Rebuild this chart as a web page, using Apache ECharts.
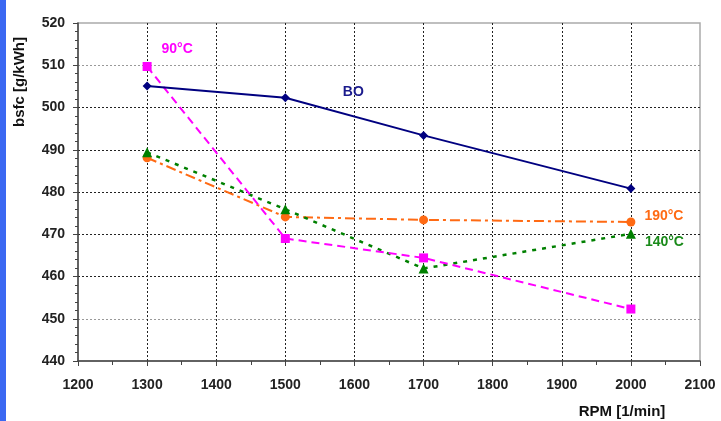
<!DOCTYPE html>
<html>
<head>
<meta charset="utf-8">
<script src="https://cdn.jsdelivr.net/npm/echarts@6/dist/echarts.min.js"></script>
<style>
  html, body { margin: 0; padding: 0; background: #fff; }
  #wrap { position: relative; width: 721px; height: 421px; }
  #chart { position: absolute; left: 0; top: 0; width: 721px; height: 421px; }
  #bar { position: absolute; left: 0; top: 0; width: 6px; height: 421px; background: #3b68f2; }
</style>
</head>
<body>
<div id="wrap">
  <div id="chart"></div>
  <div id="bar"></div>
</div>
<script>
// engine speed points
const rpm = [1300, 1500, 1700, 2000]

// bsfc values per series
const bo = [505.1, 502.3, 493.4, 480.8]
const t90 = [509.7, 469.0, 464.4, 452.3]
const t190 = [488.1, 474.1, 473.4, 472.9]
const t140 = [489.4, 475.9, 461.9, 470.1]

const xTicks = { min: 1200, max: 2100, step: 100 }
const yTicks = { min: 440, max: 520, step: 10 }

const font = '"Liberation Sans", Arial, sans-serif'

const pairs = vals => rpm.map((r, i) => [r, vals[i]])

// put a text label on one point of a series
const labelAt = (vals, idx, text, color, pos, offset) =>
  pairs(vals).map((p, i) => i !== idx ? p : {
    value: p,
    label: {
      show: true,
      formatter: text,
      position: pos,
      offset: offset,
      color: color,
      fontFamily: font,
      fontWeight: 'bold',
      fontSize: 14
    }
  })

const chart = echarts.init(document.getElementById('chart'))

const option = {
  animation: false,
  backgroundColor: '#fff',
  grid: {
    left: 78, right: 21, top: 23, bottom: 60,
    show: true, borderColor: '#aaa', borderWidth: 1.5
  },
  xAxis: {
    type: 'value',
    min: xTicks.min,
    max: xTicks.max,
    interval: xTicks.step,
    axisLine: { lineStyle: { color: '#444', width: 1.5 } },
    axisTick: { length: 5, lineStyle: { color: '#444' } },
    minorTick: { show: true, splitNumber: 2, length: 4, lineStyle: { color: '#444' } },
    axisLabel: {
      margin: 17, color: '#222', fontFamily: font, fontWeight: 'bold', fontSize: 14,
      formatter: v => String(v)
    },
    splitLine: {
      show: true,
      showMinLine: false,
      showMaxLine: false,
      lineStyle: { color: '#222', type: [2, 2], width: 1 }
    }
  },
  yAxis: {
    type: 'value',
    min: yTicks.min,
    max: yTicks.max,
    interval: yTicks.step,
    axisLine: { show: true, lineStyle: { color: '#444', width: 1.5 } },
    axisTick: { show: true, length: 5, lineStyle: { color: '#444' } },
    minorTick: { show: true, splitNumber: 5, length: 3, lineStyle: { color: '#444' } },
    axisLabel: {
      margin: 13, color: '#222', fontFamily: font, fontWeight: 'bold', fontSize: 14,
      formatter: v => String(v)
    },
    splitLine: {
      show: true,
      showMinLine: false,
      showMaxLine: false,
      lineStyle: {
        color: ['#999', '#222', '#222', '#222', '#222', '#222', '#999', '#222'],
        type: [2, 2],
        width: 1
      }
    }
  },
  graphic: [
    {
      type: 'text',
      x: 20, y: 82,
      rotation: Math.PI / 2,
      style: {
        text: 'bsfc [g/kWh]',
        fill: '#111',
        font: 'bold 15px ' + font,
        align: 'center',
        verticalAlign: 'middle'
      }
    },
    {
      type: 'text',
      x: 622, y: 412,
      style: {
        text: 'RPM [1/min]',
        fill: '#111',
        font: 'bold 15px ' + font,
        align: 'center',
        verticalAlign: 'middle'
      }
    }
  ],
  series: [
    {
      name: 'BO',
      type: 'line',
      data: labelAt(bo, 1, 'BO', '#1a1a8c', 'top', [68, 11]),
      symbol: 'diamond',
      symbolSize: 9,
      color: '#000080',
      lineStyle: { width: 2, color: '#000080' },
      z: 5
    },
    {
      name: '90°C',
      type: 'line',
      data: labelAt(t90, 0, '90°C', '#ff00ff', 'top', [30, -1]),
      symbol: 'rect',
      symbolSize: 9,
      color: '#ff00ff',
      lineStyle: { width: 2, color: '#ff00ff', type: [8, 5] },
      z: 4
    },
    {
      name: '190°C',
      type: 'line',
      data: labelAt(t190, 3, '190°C', '#ff6a13', 'right', [4, -6]),
      symbol: 'circle',
      symbolSize: 9,
      color: '#ff6a13',
      lineStyle: { width: 2, color: '#ff6a13', type: [10, 4, 3, 4] },
      z: 3
    },
    {
      name: '140°C',
      type: 'line',
      data: labelAt(t140, 3, '140°C', '#1a8a1a', 'right', [4, 8]),
      symbol: 'triangle',
      symbolSize: 10,
      color: '#008000',
      lineStyle: { width: 2.5, color: '#008000', type: [4, 6] },
      z: 3
    }
  ]
}

chart.setOption(option)
</script>
</body>
</html>
